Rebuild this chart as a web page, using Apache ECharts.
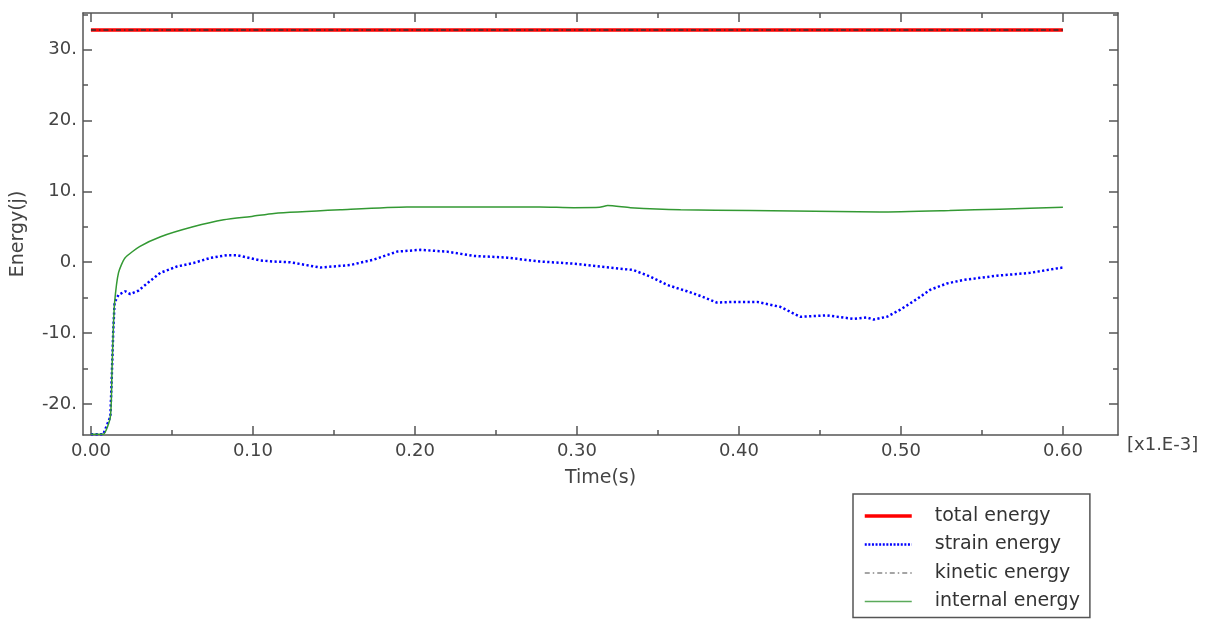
<!DOCTYPE html>
<html>
<head>
<meta charset="utf-8">
<script src="https://cdn.jsdelivr.net/npm/echarts@6/dist/echarts.min.js"></script>
<style>
html, body { margin: 0; padding: 0; background: #fff; }
#main { width: 1208px; height: 619px; }
</style>
</head>
<body>
<div id="main"></div>
<script>
// data (time in x1.E-3 s, energy in j)
var totalTime = [0, 0.6];
var totalValue = [32.8, 32.8];
var kineticTime = [0, 0.6];
var kineticValue = [32.8, 32.8];

var strainTime = [0, 0.0076, 0.012, 0.013, 0.0138, 0.0146, 0.017, 0.0212, 0.0243, 0.0294, 0.0346,
    0.0428, 0.0531, 0.0633, 0.0736, 0.084, 0.090, 0.1045, 0.1127, 0.123, 0.1415, 0.16, 0.1743,
    0.189, 0.2033, 0.2198, 0.236, 0.2568, 0.2773, 0.2979, 0.3185, 0.3348, 0.345, 0.3556, 0.368,
    0.3767, 0.3864, 0.3967, 0.4111, 0.4255, 0.4378, 0.4543, 0.4707, 0.479, 0.4831, 0.4914, 0.4996,
    0.5099, 0.518, 0.5284, 0.5385, 0.5593, 0.5798, 0.5983, 0.6];
var strainValue = [-24.3, -24.3, -21.8, -15.2, -9.5, -5.7, -4.6, -4.1, -4.5, -4.0, -3.0,
    -1.5, -0.6, -0.1, 0.6, 1.0, 1.0, 0.25, 0.1, 0.0, -0.75, -0.4, 0.35,
    1.5, 1.75, 1.5, 0.9, 0.65, 0.1, -0.2, -0.7, -1.1, -2.0, -3.2, -4.1,
    -4.8, -5.7, -5.6, -5.6, -6.3, -7.7, -7.5, -8.0, -7.8, -8.1, -7.7, -6.7,
    -5.2, -3.9, -3.0, -2.5, -1.9, -1.5, -0.8, -0.75];

var internalTime = [0, 0.0076, 0.012, 0.013, 0.0138, 0.0146, 0.017, 0.021, 0.030, 0.043, 0.063,
    0.082, 0.10, 0.113, 0.154, 0.195, 0.236, 0.277, 0.298, 0.314, 0.319, 0.333, 0.364,
    0.407, 0.487, 0.53, 0.561, 0.6];
var internalValue = [-24.3, -24.3, -21.8, -15.2, -9.5, -5.7, -1.5, 0.6, 2.2, 3.6, 5.0,
    6.0, 6.5, 6.9, 7.4, 7.8, 7.8, 7.8, 7.7, 7.75, 8.0, 7.7, 7.4,
    7.3, 7.1, 7.3, 7.5, 7.75];

var xMajor = [0, 0.1, 0.2, 0.3, 0.4, 0.5, 0.6];
var xMinor = [0.05, 0.15, 0.25, 0.35, 0.45, 0.55];
var yMajor = [-20, -10, 0, 10, 20, 30];
var yMinor = [-15, -5, 5, 15, 25, 35];

function pairs(t, v) {
    var out = [];
    for (var i = 0; i < t.length; i++) out.push([t[i], v[i]]);
    return out;
}

var myChart = echarts.init(document.getElementById('main'));

var axisColor = '#555';
var font = 'DejaVu Sans';
var xMin = -0.0049, xMax = 0.634, yMin = -24.4, yMax = 35.2;

function xAxisDef(pos, values, len, main) {
    return {
        type: 'value', position: pos, min: xMin, max: xMax,
        axisLine: { show: main, onZero: false, lineStyle: { color: axisColor, width: 1.5 } },
        axisTick: { show: true, inside: true, length: len, customValues: values,
            lineStyle: { color: axisColor, width: 1.5 } },
        axisLabel: { show: main && pos === 'bottom', customValues: values, margin: 7,
            color: '#444', fontFamily: font, fontSize: 18,
            formatter: function (v) { return v.toFixed(2); } },
        splitLine: { show: false },
        name: main && pos === 'bottom' ? 'Time(s)' : '',
        nameLocation: 'middle', nameGap: 34,
        nameTextStyle: { color: '#444', fontFamily: font, fontSize: 19 }
    };
}
function yAxisDef(pos, values, len, main) {
    return {
        type: 'value', position: pos, min: yMin, max: yMax,
        axisLine: { show: main, onZero: false, lineStyle: { color: axisColor, width: 1.5 } },
        axisTick: { show: true, inside: true, length: len, customValues: values,
            lineStyle: { color: axisColor, width: 1.5 } },
        axisLabel: { show: main && pos === 'left', customValues: values, margin: 6,
            color: '#444', fontFamily: font, fontSize: 18,
            formatter: function (v) { return v + '.'; } },
        splitLine: { show: false }
    };
}

var option = {
    animation: false,
    backgroundColor: '#fff',
    grid: { left: 83, right: 90, top: 13, bottom: 184 },
    xAxis: [
        xAxisDef('bottom', xMajor, 9, true),
        xAxisDef('bottom', xMinor, 5, false),
        xAxisDef('top', xMajor, 9, true),
        xAxisDef('top', xMinor, 5, false)
    ],
    yAxis: [
        yAxisDef('left', yMajor, 9, true),
        yAxisDef('left', yMinor, 5, false),
        yAxisDef('right', yMajor, 9, true),
        yAxisDef('right', yMinor, 5, false)
    ],
    legend: {
        orient: 'vertical', left: 853, top: 494,
        padding: [12, 10, 6, 10],
        itemWidth: 47, itemHeight: 14, itemGap: 8.5,
        borderColor: axisColor, borderWidth: 1.5,
        itemStyle: { opacity: 0 },
        textStyle: { color: '#333', fontFamily: font, fontSize: 19, lineHeight: 20,
            padding: [0, 0, 0, 18] },
        data: [
            { name: 'total energy', lineStyle: { width: 3.5 } },
            { name: 'strain energy', lineStyle: { width: 2.5, type: [2, 1.6] } },
            { name: 'kinetic energy', lineStyle: { color: '#888', width: 1.5 } },
            { name: 'internal energy', lineStyle: { color: '#5aaa5a', width: 1.5 } }
        ]
    },
    graphic: [
        { type: 'text', x: 18, y: 234, rotation: Math.PI / 2,
          style: { text: 'Energy(j)', fill: '#444', font: '19px "DejaVu Sans"',
                   align: 'center', verticalAlign: 'middle' } },
        { type: 'text', x: 1127, y: 445,
          style: { text: '[x1.E-3]', fill: '#444', font: '18px "DejaVu Sans"',
                   align: 'left', verticalAlign: 'middle' } }
    ],
    series: [
        { name: 'total energy', type: 'line', symbol: 'none',
          data: pairs(totalTime, totalValue),
          lineStyle: { color: '#ff0000', width: 3.5 }, itemStyle: { color: '#ff0000' } },
        { name: 'strain energy', type: 'line', symbol: 'none',
          data: pairs(strainTime, strainValue),
          lineStyle: { color: '#0000ff', width: 2.5, type: [2.2, 2.4] }, itemStyle: { color: '#0000ff' } },
        { name: 'kinetic energy', type: 'line', symbol: 'none',
          data: pairs(kineticTime, kineticValue),
          lineStyle: { color: '#333', width: 1.5, type: [5, 3, 1.5, 3] }, itemStyle: { color: '#333' } },
        { name: 'internal energy', type: 'line', symbol: 'none', smooth: 0.2,
          data: pairs(internalTime, internalValue),
          lineStyle: { color: '#339933', width: 1.5 }, itemStyle: { color: '#339933' } }
    ]
};

myChart.setOption(option);
</script>
</body>
</html>
